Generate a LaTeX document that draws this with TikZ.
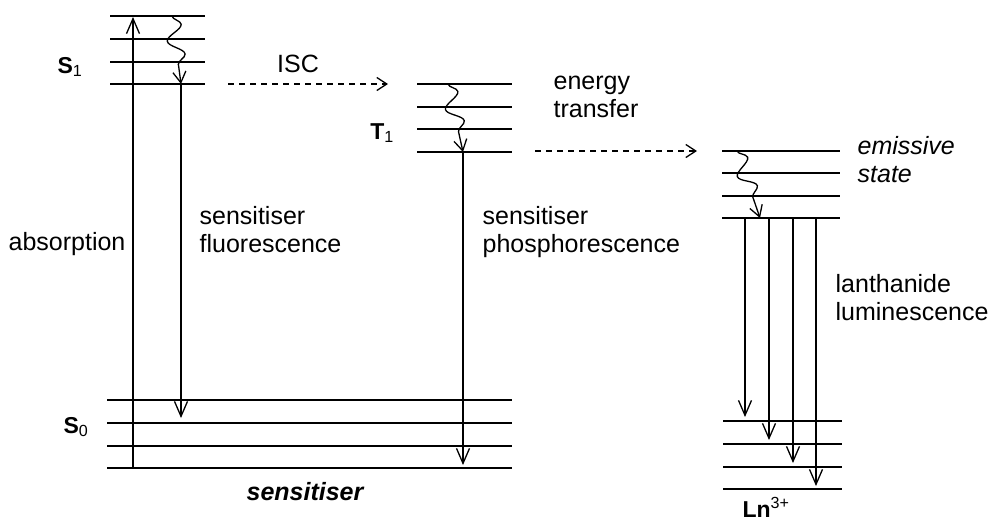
\documentclass[tikz,border=0pt]{standalone}
\usepackage{fontspec}
\setmainfont{Liberation Sans}
\usetikzlibrary{arrows.meta,decorations.pathmorphing}

\begin{document}
\begin{tikzpicture}[x=1pt,y=-1pt,line width=1.3pt,
  level/.style={line width=1.7pt},
  trans/.style={-{Straight Barb[length=15pt,width=13pt]}},
  hop/.style={dash pattern=on 6pt off 5pt,-{Straight Barb[length=10pt,width=13pt]}},
  relax/.style={-{Straight Barb[length=11pt,width=13pt]},decorate,
    decoration={snake,amplitude=8pt,segment length=30pt,post length=14pt}},
  lbl/.style={font=\fontsize{25}{28}\selectfont,align=left,inner sep=0pt},
  tag/.style={font=\fontsize{23}{28}\selectfont\bfseries,inner sep=0pt}]

  \useasboundingbox (0,0) rectangle (991,523);

  % energy levels
  \foreach \y in {16,39,62,84}    \draw[level] (110,\y) -- (205,\y);
  \foreach \y in {84,107,129,152} \draw[level] (417,\y) -- (512,\y);
  \foreach \y in {400,423,446,468} \draw[level] (107,\y) -- (512,\y);
  \foreach \y in {151,173,196,218} \draw[level] (722,\y) -- (840,\y);
  \foreach \y in {421,444,467,489} \draw[level] (723,\y) -- (842,\y);

  % end points of the transitions
  \coordinate (absLow) at (133,468);
  \coordinate (absTop) at (133,17);
  \coordinate (sOneTop) at (172,16);
  \coordinate (sOneLow) at (181,84);
  \coordinate (fluEnd) at (181,418);
  \coordinate (iscFrom) at (228,84);
  \coordinate (iscTo) at (388,84);
  \coordinate (tOneTop) at (448,84);
  \coordinate (tOneLow) at (463,152);
  \coordinate (phosEnd) at (463,465);
  \coordinate (etFrom) at (535,151);
  \coordinate (etTo) at (697,151);
  \coordinate (emTop) at (737,151);
  \coordinate (emLow) at (760,218);

  \draw[trans] (absLow) -- (absTop);
  \draw[relax] (sOneTop) -- (sOneLow);
  \draw[trans] (sOneLow) -- (fluEnd);
  \draw[hop] (iscFrom) -- (iscTo);
  \draw[relax] (tOneTop) -- (tOneLow);
  \draw[trans] (tOneLow) -- (phosEnd);
  \draw[hop] (etFrom) -- (etTo);
  \draw[relax] (emTop) -- (emLow);
  \foreach \x/\y [count=\i] in {745/417,769/440,793/463,816/486} {
    \coordinate (lnTop\i) at (\x,218);
    \coordinate (lnLow\i) at (\x,\y);
    \draw[trans] (lnTop\i) -- (lnLow\i);
  }

  % labels
  \node[tag] (sOne) at (70,67) {S\textsubscript{\mdseries 1}};
  \node[tag] (sZero) at (76,427) {S\textsubscript{\mdseries 0}};
  \node[tag] (tOne) at (382,133) {T\textsubscript{\mdseries 1}};
  \node[tag] (ln) at (766,507) {Ln\textsuperscript{\mdseries 3+}};
  \node[lbl,anchor=base] (isc) at (298,72) {ISC};
  \node[lbl,anchor=base] (absorb) at (67,250) {absorption};
  \node[lbl,anchor=base west] (fluor) at (199,252) {sensitiser\\fluorescence};
  \node[lbl,anchor=base west] (phos) at (482,252) {sensitiser\\phosphorescence};
  \node[lbl,anchor=base west] (entr) at (553,117) {energy\\transfer};
  \node[lbl,anchor=base west,font=\fontsize{25}{28}\selectfont\itshape] (emis) at (857,182) {emissive\\state};
  \node[lbl,anchor=base west] (lumi) at (835,320) {lanthanide\\luminescence};
  \node[lbl,anchor=base,font=\fontsize{25}{28}\selectfont\bfseries\itshape] (sens) at (305,500) {sensitiser};
\end{tikzpicture}
\end{document}
